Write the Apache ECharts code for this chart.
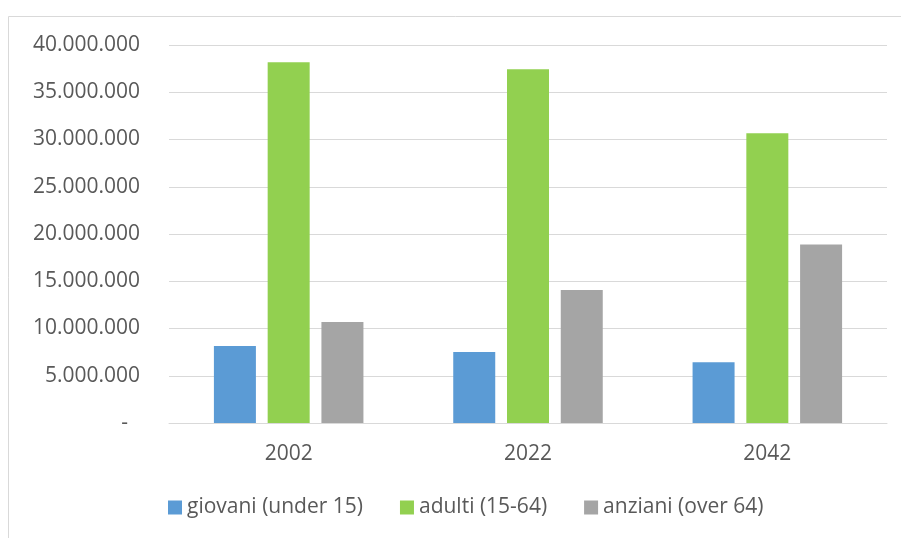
<!DOCTYPE html>
<html>
<head>
<meta charset="utf-8">
<script src="https://cdn.jsdelivr.net/npm/echarts@6/dist/echarts.min.js"></script>
<style>
html,body{margin:0;padding:0;background:#fff;}
#chart{width:901px;height:538px;}
</style>
</head>
<body>
<div id="chart"></div>
<script>
var categories = ['2002', '2022', '2042'];
var seriesNames = ['giovani (under 15)', 'adulti (15-64)', 'anziani (over 64)'];
var giovani = [8150000, 7510000, 6420000];
var adulti = [38170000, 37430000, 30660000];
var anziani = [10690000, 14070000, 18900000];
var yTicks = { min: 0, max: 40000000, interval: 5000000 };

var FONT = 'Open Sans';
var FS = 21;
var TXT = '#595959';
var colors = ['#5b9bd5', '#92d050', '#a5a5a5'];

function fmt(v) {
  if (v === 0) return '{z|-}';
  return String(v).replace(/\B(?=(\d{3})+(?!\d))/g, '.');
}

var chart = echarts.init(document.getElementById('chart'), null, { renderer: 'canvas' });
chart.setOption({
  animation: false,
  backgroundColor: '#ffffff',
  textStyle: { fontFamily: FONT },
  graphic: [{
    type: 'rect',
    shape: { x: 8.5, y: 16.5, width: 1000, height: 1000 },
    style: { fill: null, stroke: '#d9d9d9', lineWidth: 1 },
    silent: true
  }],
  grid: { left: 169, right: 14, top: 45, bottom: 115, containLabel: false },
  legend: {
    data: seriesNames,
    left: 163,
    top: 492,
    itemWidth: 14,
    itemHeight: 14,
    itemGap: 37,
    icon: 'rect',
    textStyle: { fontFamily: FONT, fontSize: FS, color: TXT }
  },
  xAxis: {
    type: 'category',
    data: categories,
    axisLine: { lineStyle: { color: '#d9d9d9', width: 1 } },
    axisTick: { show: false },
    axisLabel: { fontFamily: FONT, fontSize: FS, color: TXT, margin: 21 }
  },
  yAxis: {
    type: 'value',
    min: yTicks.min,
    max: yTicks.max,
    interval: yTicks.interval,
    axisLine: { show: false },
    axisTick: { show: false },
    splitLine: { lineStyle: { color: '#d9d9d9', width: 1 } },
    axisLabel: {
      fontFamily: FONT, fontSize: FS, color: TXT, margin: 29,
      formatter: fmt,
      rich: { z: { fontFamily: FONT, fontSize: FS, color: TXT, padding: [0, 12, 0, 0] } }
    }
  },
  series: [
    { name: seriesNames[0], type: 'bar', data: giovani, itemStyle: { color: colors[0] }, barWidth: 42, barGap: '28%' },
    { name: seriesNames[1], type: 'bar', data: adulti, itemStyle: { color: colors[1] }, barWidth: 42, barGap: '28%' },
    { name: seriesNames[2], type: 'bar', data: anziani, itemStyle: { color: colors[2] }, barWidth: 42, barGap: '28%' }
  ]
});
</script>
</body>
</html>
